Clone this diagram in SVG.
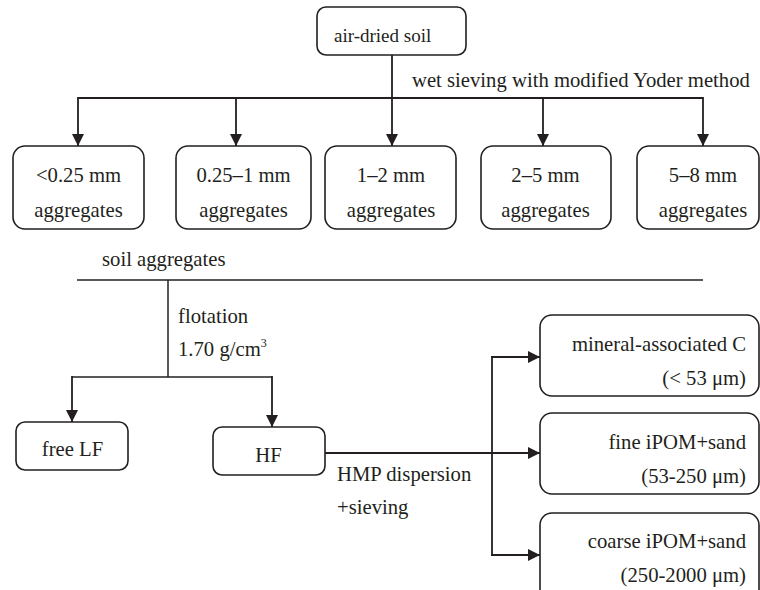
<svg xmlns="http://www.w3.org/2000/svg" width="760" height="590" viewBox="0 0 760 590">
<style>
.box{fill:#fff;stroke:#231f20;stroke-width:1.6}
.ln{fill:none;stroke:#231f20;stroke-width:1.8}
.ln2{fill:none;stroke:#231f20;stroke-width:1.5}
text{font-family:"Liberation Serif","Times New Roman",serif;font-size:20.7px;fill:#231f20}
.c{text-anchor:middle}
.r{text-anchor:end}
</style>
<defs>
<marker id="ah" markerUnits="userSpaceOnUse" markerWidth="12" markerHeight="12" refX="12" refY="6" orient="auto">
<path d="M0,0 L12,6 L0,12 z" fill="#231f20"/>
</marker>
</defs>
<rect width="760" height="590" fill="#fff"/>
<g id="connectors">
<line class="ln" x1="392" y1="55" x2="392" y2="146" marker-end="url(#ah)"/>
<line class="ln" x1="78" y1="98" x2="703" y2="98"/>
<line class="ln" x1="78" y1="97" x2="78" y2="146" marker-end="url(#ah)"/>
<line class="ln" x1="236" y1="98" x2="236" y2="146" marker-end="url(#ah)"/>
<line class="ln" x1="543" y1="98" x2="543" y2="146" marker-end="url(#ah)"/>
<line class="ln" x1="703" y1="97" x2="703" y2="146" marker-end="url(#ah)"/>
<line class="ln2" x1="77" y1="280" x2="703" y2="280"/>
<line class="ln2" x1="168" y1="280" x2="168" y2="377"/>
<line class="ln2" x1="72" y1="377" x2="272" y2="377"/>
<line class="ln" x1="72" y1="376" x2="72" y2="422" marker-end="url(#ah)"/>
<line class="ln" x1="272" y1="376" x2="272" y2="427" marker-end="url(#ah)"/>
<line class="ln" x1="325" y1="453" x2="540" y2="453" marker-end="url(#ah)"/>
<line class="ln" x1="492" y1="357" x2="492" y2="555"/>
<line class="ln" x1="491" y1="357" x2="540" y2="357" marker-end="url(#ah)"/>
<line class="ln" x1="491" y1="555" x2="540" y2="555" marker-end="url(#ah)"/>
</g>
<g id="air-dried-soil">
<rect class="box" x="317" y="7" width="149" height="48" rx="9"/>
<text x="334" y="42" style="font-size:19px">air-dried soil</text>
</g>
<text x="412" y="87">wet sieving with modified Yoder method</text>
<g id="agg-lt025">
<rect class="box" x="13" y="146" width="131" height="83" rx="12"/>
<text class="c" x="78.5" y="182">&lt;0.25 mm</text>
<text class="c" x="78.5" y="217">aggregates</text>
</g>
<g id="agg-025-1">
<rect class="box" x="176" y="146" width="135" height="83" rx="12"/>
<text class="c" x="243.5" y="182">0.25–1 mm</text>
<text class="c" x="243.5" y="217">aggregates</text>
</g>
<g id="agg-1-2">
<rect class="box" x="325" y="146" width="131" height="83" rx="12"/>
<text class="c" x="391" y="182">1–2 mm</text>
<text class="c" x="391" y="217">aggregates</text>
</g>
<g id="agg-2-5">
<rect class="box" x="481" y="146" width="130" height="83" rx="12"/>
<text class="c" x="545.5" y="182">2–5 mm</text>
<text class="c" x="545.5" y="217">aggregates</text>
</g>
<g id="agg-5-8">
<rect class="box" x="637" y="146" width="122" height="83" rx="12"/>
<text class="c" x="703" y="182">5–8 mm</text>
<text class="c" x="703" y="217">aggregates</text>
</g>
<text x="102" y="266">soil aggregates</text>
<text x="178" y="323">flotation</text>
<text x="178" y="356">1.70 g/cm<tspan font-size="12" dy="-9">3</tspan></text>
<g id="free-lf">
<rect class="box" x="16" y="422" width="112" height="48" rx="9"/>
<text class="c" x="72.5" y="456">free LF</text>
</g>
<g id="hf">
<rect class="box" x="213" y="427" width="112" height="48" rx="9"/>
<text class="c" x="268.5" y="462">HF</text>
</g>
<text x="337" y="481">HMP dispersion</text>
<text x="337" y="514">+sieving</text>
<g id="mineral-c">
<rect class="box" x="540" y="315" width="219" height="81" rx="12"/>
<text class="r" x="746" y="351">mineral-associated C</text>
<text class="r" x="746" y="385">(&lt; 53 μm)</text>
</g>
<g id="fine-ipom">
<rect class="box" x="540" y="413" width="219" height="81" rx="12"/>
<text class="r" x="746" y="449">fine iPOM+sand</text>
<text class="r" x="746" y="483">(53-250 μm)</text>
</g>
<g id="coarse-ipom">
<rect class="box" x="540" y="513" width="219" height="90" rx="12"/>
<text class="r" x="746" y="548">coarse iPOM+sand</text>
<text class="r" x="746" y="582">(250-2000 μm)</text>
</g>
</svg>
